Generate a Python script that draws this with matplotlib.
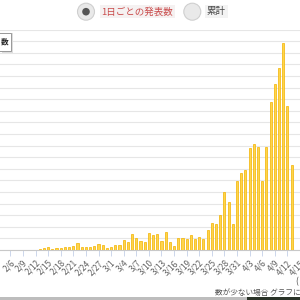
import pandas as pd
import matplotlib
matplotlib.use('Agg')
from matplotlib import pyplot as plt
from matplotlib.patches import Circle, Rectangle

plt.rcParams['font.family'] = ['Noto Sans CJK JP', 'DejaVu Sans']

# daily reported cases, starting 2020-02-13
first_day = '2020-02-13'
daily_counts = [4, 7, 9, 4, 6, 7, 9, 9, 13, 24,
                9, 10, 10, 15, 22, 17, 7, 11, 16, 17,
                33, 29, 54, 42, 32, 28, 59, 52, 54, 31,
                61, 29, 15, 42, 41, 39, 52, 37, 45, 38,
                69, 94, 90, 121, 201, 167, 91, 239, 267, 276,
                353, 364, 356, 239, 356, 512, 571, 629, 715, 496,
                293]
tick_start = '2020-02-06'
tick_end = '2020-04-15'

dates = pd.date_range(first_day, periods=len(daily_counts))
origin = pd.Timestamp(first_day)
xpos = [(d - origin).days for d in dates]

tick_dates = pd.date_range(tick_start, tick_end, freq='3D')
tick_pos = [(d - origin).days for d in tick_dates]
tick_labels = [f'{d.month}/{d.day}' for d in tick_dates]

fig = plt.figure(figsize=(3, 3), dpi=100)
ax = fig.add_axes([0, 50 / 300, 1, 220.4 / 300])

ax.bar(xpos, daily_counts, width=0.5, color='#ffd54a', edgecolor='#f2b200',
       linewidth=0.5, zorder=3)

ax.set_xlim(-40.7 / 4.3, (300 - 40.7) / 4.3)
ax.set_ylim(0, 760)
ax.set_yticks(range(0, 761, 40))
ax.yaxis.grid(True, color='#e6e6e6', linewidth=0.8)
ax.tick_params(axis='y', left=False, labelleft=False)

ax.set_xticks(tick_pos)
ax.set_xticklabels(tick_labels, rotation=45, ha='right', rotation_mode='anchor',
                   fontsize=6, color='#606060')
ax.tick_params(axis='x', length=4, width=0.7, color='#ccd6eb', pad=2)

for side in ['top', 'left', 'right']:
    ax.spines[side].set_visible(False)
ax.spines['bottom'].set_color('#c8c8c8')
ax.spines['bottom'].set_linewidth(0.8)

# legend box, cut off at the left edge
fig.patches.append(Rectangle((1.5 / 300, 1 - 52.5 / 300), 11 / 300, 19 / 300,
                             transform=fig.transFigure, facecolor='#dddddd',
                             edgecolor='none', zorder=4))
fig.patches.append(Rectangle((-3 / 300, 1 - 51 / 300), 14 / 300, 18 / 300,
                             transform=fig.transFigure, facecolor='white',
                             edgecolor='#999999', linewidth=0.7, zorder=5))
fig.text(4.5 / 300, 1 - 42 / 300, '数', fontsize=5.5, fontweight='bold',
         ha='center', va='center', color='#222222', zorder=6)

# radio buttons at the top
fig.patches.append(Circle((86 / 300, 1 - 11.7 / 300), 8.5 / 300, transform=fig.transFigure,
                          facecolor='#e9e9e9', edgecolor='#cfcfcf', linewidth=0.8))
fig.patches.append(Circle((86 / 300, 1 - 11.7 / 300), 3.8 / 300, transform=fig.transFigure,
                          facecolor='#555555', edgecolor='none'))
fig.patches.append(Circle((192.3 / 300, 1 - 11.7 / 300), 8.5 / 300, transform=fig.transFigure,
                          facecolor='#e9e9e9', edgecolor='#cfcfcf', linewidth=0.8))
fig.text(101.5 / 300, 1 - 11.7 / 300, '1日ごとの発表数', fontsize=6.8, color='#c94a4a',
         ha='left', va='center',
         bbox=dict(facecolor='#f5f1f1', edgecolor='none', pad=1.2))
fig.text(207 / 300, 1 - 11.7 / 300, '累計', fontsize=6.8, color='#444444',
         ha='left', va='center',
         bbox=dict(facecolor='#f3f3f3', edgecolor='none', pad=1.2))

# notes below the chart
fig.text(297 / 300, 1 - 282 / 300, '(', fontsize=6, color='#444444', ha='center', va='center')
fig.text(215 / 300, 1 - 293 / 300, '数が少ない場合 グラフに', fontsize=5.5,
         color='#555555', ha='left', va='center')

# frame edge at the very bottom
fig.patches.append(Rectangle((0, 0), 247 / 300, 3 / 300, transform=fig.transFigure,
                             facecolor='#bdbdbd', edgecolor='none'))
fig.patches.append(Rectangle((247 / 300, 0), 53 / 300, 3.5 / 300, transform=fig.transFigure,
                             facecolor='#2a3328', edgecolor='none'))

fig.savefig('out.png', dpi=100)
plt.close(fig)
